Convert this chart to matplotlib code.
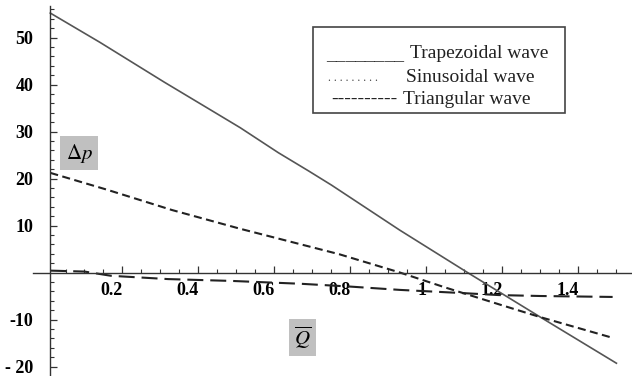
import matplotlib.pyplot as plt

plt.rcParams['lines.scale_dashes'] = False
plt.rcParams['mathtext.fontset'] = 'stix'

# pressure rise vs. flow rate for three wave forms
q_trap = [0.01, 0.14, 0.31, 0.44, 0.51, 0.61, 0.69, 0.75, 0.93, 1.11, 1.30, 1.50]
dp_trap = [55.2, 49.0, 40.5, 34.2, 30.8, 25.5, 21.6, 18.6, 9.0, -0.1, -9.5, -19.3]

q_tri = [0.01, 0.16, 0.33, 0.51, 0.77, 0.93, 1.05, 1.20, 1.30, 1.49]
dp_tri = [21.2, 17.6, 13.3, 9.3, 3.9, 0.0, -3.2, -7.0, -9.5, -13.9]

q_sin = [0.01, 0.10, 0.17, 0.32, 0.49, 0.67, 0.80, 0.93, 1.10, 1.19, 1.30, 1.49]
dp_sin = [0.4, 0.2, -0.7, -1.4, -1.8, -2.4, -3.0, -3.7, -4.4, -4.8, -5.0, -5.2]

yticks = [-20, -10, 10, 20, 30, 40, 50]
ylabels = ['- 20', '-10', '10', '20', '30', '40', '50']
xticks = [0.2, 0.4, 0.6, 0.8, 1.0, 1.2, 1.4]
xlabels = ['0.2', '0.4', '0.6', '0.8', '1', '1.2', '1.4']

fig = plt.figure(figsize=(6.32, 3.76), dpi=100)
ax = fig.add_axes([0, 0, 1, 1])
ax.set_xlim(-0.1224, 1.541)
ax.set_ylim(-22.02, 57.98)

ax.plot(q_trap, dp_trap, color='#555555', lw=1.2)
ax.plot(q_tri, dp_tri, color='#222222', lw=1.5, linestyle=(0, (5.8, 3.2)))
ax.plot(q_sin, dp_sin, color='#222222', lw=1.5, linestyle=(0, (11.5, 5)))

# axes crossing at the origin, Mathematica style
for s in ['top', 'right']:
    ax.spines[s].set_visible(False)
ax.spines['left'].set_position(('data', 0.009))
ax.spines['bottom'].set_position(('data', 0))
ax.spines['left'].set_bounds(-22.02, 56.8)
ax.spines['bottom'].set_bounds(-0.036, 1.541)
for s in ['left', 'bottom']:
    ax.spines[s].set_color('#333333')
    ax.spines[s].set_linewidth(1.0)

ax.set_yticks(yticks)
ax.set_yticklabels(ylabels)
ax.set_yticks([v for v in range(-20, 57, 2) if v % 10 != 0], minor=True)
ax.set_xticks(xticks)
ax.set_xticklabels(xlabels)
ax.set_xticks([0.05 * i for i in range(1, 31) if i % 4 != 0], minor=True)

ax.tick_params(axis='both', which='major', direction='in', length=5, width=0.9, color='#333333')
ax.tick_params(axis='both', which='minor', direction='in', length=3, width=0.8, color='#333333')
ax.tick_params(axis='y', which='major', pad=12)
ax.tick_params(axis='x', which='major', pad=7)
for lab in ax.get_xticklabels():
    lab.set_horizontalalignment('right')
    lab.set_fontfamily('Liberation Serif')
    lab.set_fontweight('bold')
    lab.set_fontsize(13)
for lab in ax.get_yticklabels():
    lab.set_fontfamily('Liberation Serif')
    lab.set_fontweight('bold')
    lab.set_fontsize(13)

# axis labels in gray boxes
box = dict(boxstyle='square,pad=0.25', facecolor='#c0c0c0', edgecolor='none')
ax.text(0.0855, 25.4, r'$\Delta p$', fontsize=15, ha='center', va='center', bbox=box)
ax.text(0.674, -13.8, r'$\overline{Q}$', fontsize=15, ha='center', va='center', bbox=box)

# hand-made legend box
fig.patches.append(plt.Rectangle((313 / 632, 1 - 113 / 376), 252 / 632, 86 / 376,
                                 transform=fig.transFigure, fill=False,
                                 edgecolor='#444444', linewidth=1.2))
tk = dict(family='Liberation Serif', fontsize=14, color='#222222', va='center')
fig.text(326 / 632, 1 - 56 / 376, '________', **tk)
fig.text(410 / 632, 1 - 53 / 376, 'Trapezoidal wave', **tk)
fig.text(328 / 632, 1 - 78 / 376, '. . . . . . . . .', family='Liberation Serif',
         fontsize=8.5, color='#444444', va='center')
fig.text(406 / 632, 1 - 78 / 376, 'Sinusoidal wave', **tk)
fig.text(331 / 632, 1 - 99 / 376, '----------', **tk)
fig.text(403 / 632, 1 - 99 / 376, 'Triangular wave', **tk)

fig.savefig('out.png', dpi=100)
